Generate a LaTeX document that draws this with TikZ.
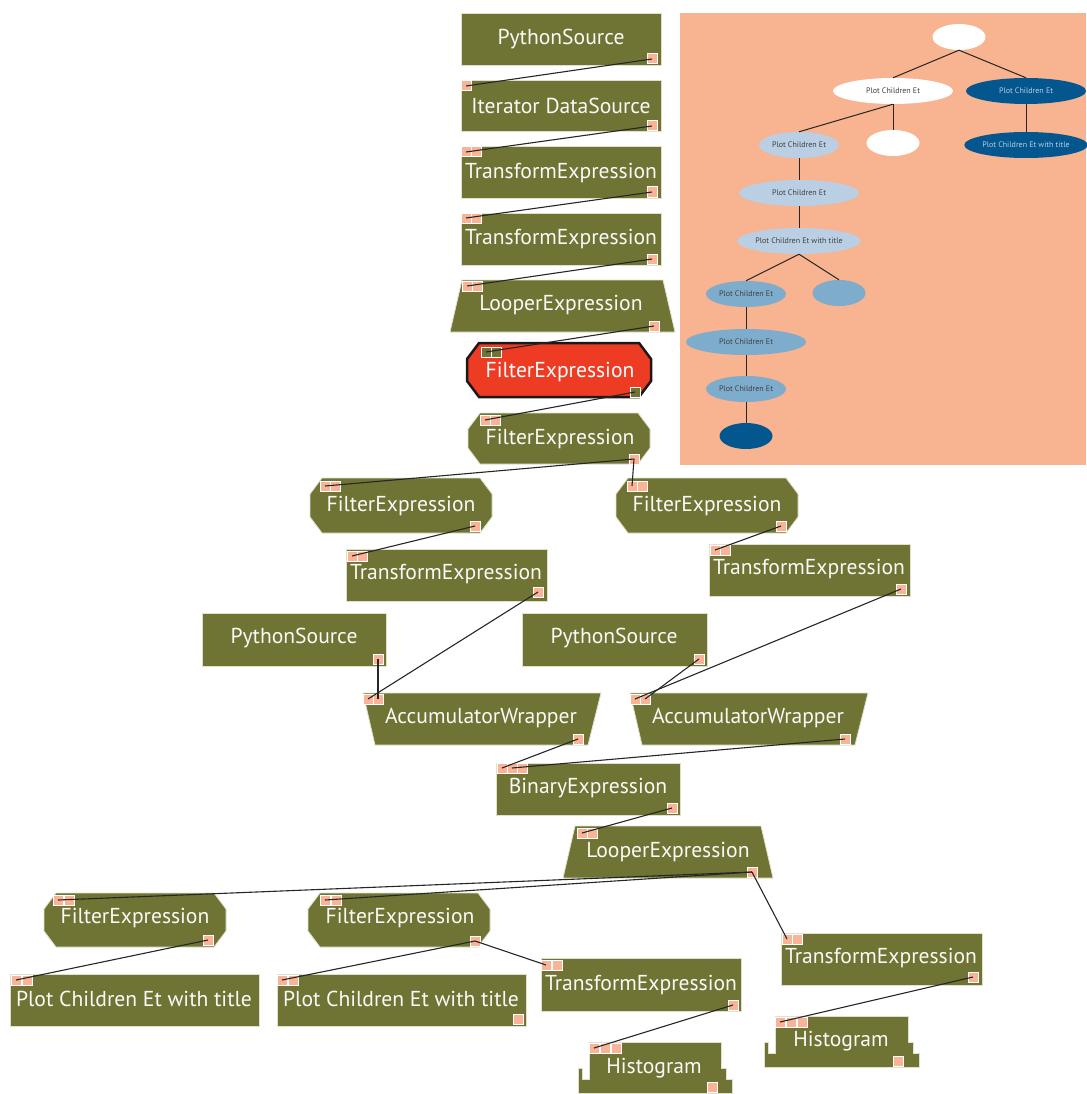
\documentclass[tikz,border=0pt]{standalone}
\usepackage{fontspec}
\setmainfont{PT Sans}
\usetikzlibrary{shapes.geometric}
\definecolor{blockgreen}{HTML}{6F7434}
\definecolor{portpink}{HTML}{F9B497}
\definecolor{sheet}{HTML}{F8B390}
\definecolor{alarm}{HTML}{EE3B24}
\definecolor{navy}{HTML}{03568E}
\definecolor{paleblue}{HTML}{BACFE4}
\definecolor{midblue}{HTML}{7EACCC}
\definecolor{edgeline}{HTML}{E2E0CC}
\def\rectbox(#1,#2,#3,#4){\draw[block] (#1,#2) rectangle (#3,#4);}
\def\trapbox(#1,#2,#3)(#4,#5,#6){\draw[block] (#1,#3) -- (#2,#3) -- (#5,#6) -- (#4,#6) -- cycle;}
\def\filterbox[#1](#2,#3,#4,#5){\draw[#1] ({#2+12},#3) -- ({#4-12},#3) -- (#4,{#3+16}) -- (#4,{#5-16}) -- ({#4-12},#5) -- ({#2+12},#5) -- (#2,{#5-16}) -- (#2,{#3+16}) -- cycle;}
\def\histbox(#1,#2,#3,#4){\draw[block] (#1,#2) -- (#3,#2) -- (#3,{#2+26.5}) -- ({#3+5},{#2+26.5}) -- ({#3+5},{#2+37}) -- ({#3+11},{#2+37}) -- ({#3+11},#4) -- ({#1-11},#4) -- ({#1-11},{#2+26.5}) -- ({#1-6.5},{#2+26.5}) -- ({#1-6.5},{#2+37}) -- (#1,{#2+37}) -- cycle;}

\begin{document}
\begin{tikzpicture}[x=1pt,y=-1pt,
	block/.style={fill=blockgreen,draw=edgeline,line width=0.8pt},
	blocktext/.style={text=white!96!blockgreen,font=\fontsize{21.6}{23}\selectfont,inner sep=0pt,yshift=-2pt},
	port/.style={fill=portpink,draw=white,line width=1pt,minimum size=10pt,inner sep=0pt},
	darkport/.style={port,fill=blockgreen},
	wire/.style={line width=1.1pt,black!85},
	leaf/.style={ellipse,inner sep=0pt,minimum height=26pt,text=black!75,font=\fontsize{8}{9}\selectfont},
	branch/.style={line width=1pt,black!85}]
			%%%%% START %%%%%
			\useasboundingbox (0,0) rectangle (1086,1094);
			
			% tree panel
			\fill[sheet] (680,13) rectangle (1086,465);
			\node[leaf,fill=white,minimum width=53pt] (t0) at (959,37) {};
			\node[leaf,fill=white,minimum width=120pt] (t1) at (893,91) {Plot Children Et};
			\node[leaf,fill=navy,text=paleblue,minimum width=120pt] (t2) at (1026,91) {Plot Children Et};
			\node[leaf,fill=paleblue,minimum width=80pt] (t3) at (799,145) {Plot Children Et};
			\node[leaf,fill=white,minimum width=53pt] (t4) at (893,143) {};
			\node[leaf,fill=navy,text=paleblue,minimum width=120pt] (t5) at (1026,145) {Plot Children Et with title};
			\node[leaf,fill=paleblue,minimum width=120pt] (t6) at (799,193) {Plot Children Et};
			\node[leaf,fill=paleblue,minimum width=120pt] (t7) at (799,241) {Plot Children Et with title};
			\node[leaf,fill=midblue,minimum width=80pt] (t8) at (746,294) {Plot Children Et};
			\node[leaf,fill=midblue,minimum width=53pt] (t9) at (839,293) {};
			\node[leaf,fill=midblue,minimum width=120pt] (t10) at (746,342) {Plot Children Et};
			\node[leaf,fill=midblue,minimum width=80pt] (t11) at (746,389) {Plot Children Et};
			\node[leaf,fill=navy,minimum width=53pt] (t12) at (746,436) {};
			\draw[branch] (t0.south) -- (t1.north);
			\draw[branch] (t0.south) -- (t2.north);
			\draw[branch] (t1.south) -- (t3.north);
			\draw[branch] (t1.south) -- (t4.north);
			\draw[branch] (t2.south) -- (t5.north);
			\draw[branch] (t3.south) -- (t6.north);
			\draw[branch] (t6.south) -- (t7.north);
			\draw[branch] (t7.south) -- (t8.north);
			\draw[branch] (t7.south) -- (t9.north);
			\draw[branch] (t8.south) -- (t10.north);
			\draw[branch] (t10.south) -- (t11.north);
			\draw[branch] (t11.south) -- (t12.north);
			
			% upper chain
			\rectbox(461,13,661,65)
			\node[blocktext] (ps1) at (561,37) {PythonSource};
			\node[port] (ps1o) at (652,59) {};
			
			\rectbox(461,80,661,131)
			\node[blocktext] (ids) at (561,104) {Iterator DataSource};
			\node[port] (idsi) at (466,86) {};
			\node[port] (idso) at (652,126) {};
			
			\rectbox(461,146,661,198)
			\node[blocktext] (te1) at (561,171) {TransformExpression};
			\node[port] (te1i) at (466,152) {};
			\node[port] (te1j) at (476,152) {};
			\node[port] (te1o) at (652,192) {};
			
			\rectbox(461,213,661,265)
			\node[blocktext] (te2) at (561,237) {TransformExpression};
			\node[port] (te2i) at (466,218) {};
			\node[port] (te2j) at (476,218) {};
			\node[port] (te2o) at (652,259) {};
			
			\trapbox(462,663,280)(450,675,332)
			\node[blocktext] (le1) at (561,303) {LooperExpression};
			\node[port] (le1i) at (467,286) {};
			\node[port] (le1j) at (477,286) {};
			\node[port] (le1o) at (654,326) {};
			
			\filterbox[fill=alarm,draw=black!90,line width=2.5pt](467,343,651,397)
			\node[blocktext,text=white] (fer) at (560,370) {FilterExpression};
			\node[darkport] (feri) at (486,352) {};
			\node[darkport] (ferj) at (496,352) {};
			\node[darkport] (fero) at (635,392) {};
			
			\filterbox[block](468,413,650,464)
			\node[blocktext] (fe2) at (560,437) {FilterExpression};
			\node[port] (fe2i) at (485,420) {};
			\node[port] (fe2j) at (495,420) {};
			\node[port] (fe2o) at (634,459) {};
			
			% two branches
			\filterbox[block](310,478,492,533)
			\node[blocktext] (fel) at (401,504) {FilterExpression};
			\node[port] (feli) at (325,486) {};
			\node[port] (felj) at (335,486) {};
			\node[port] (felo) at (475,526) {};
			
			\filterbox[block](616,478,798,533)
			\node[blocktext] (fer2) at (707,504) {FilterExpression};
			\node[port] (fer2i) at (632,486) {};
			\node[port] (fer2j) at (642,486) {};
			\node[port] (fer2o) at (781,526) {};
			
			\rectbox(346,549,547,601)
			\node[blocktext] (tel) at (446,572) {TransformExpression};
			\node[port] (teli) at (352,556) {};
			\node[port] (telj) at (362,556) {};
			\node[port] (telo) at (538,592) {};
			
			\rectbox(709,544,910,596)
			\node[blocktext] (ter) at (809,567) {TransformExpression};
			\node[port] (teri) at (715,550) {};
			\node[port] (terj) at (725,550) {};
			\node[port] (tero) at (901,589) {};
			
			\rectbox(202,613,386,666)
			\node[blocktext] (psl) at (294,636) {PythonSource};
			\node[port] (pslo) at (378,659) {};
			
			\rectbox(522,613,707,666)
			\node[blocktext] (psr) at (614,636) {PythonSource};
			\node[port] (psro) at (699,659) {};
			
			\trapbox(363,601,693)(375,588,745)
			\node[blocktext] (awl) at (481,716) {AccumulatorWrapper};
			\node[port] (awli) at (368,699) {};
			\node[port] (awlj) at (378,699) {};
			\node[port] (awlo) at (578,739) {};
			
			\trapbox(630,868,693)(642,855,745)
			\node[blocktext] (awr) at (748,716) {AccumulatorWrapper};
			\node[port] (awri) at (635,699) {};
			\node[port] (awrj) at (645,699) {};
			\node[port] (awro) at (845,739) {};
			
			% merge
			\rectbox(496,763,680,815)
			\node[blocktext] (be) at (588,786) {BinaryExpression};
			\node[port] (bei) at (502,768) {};
			\node[port] (bej) at (512,768) {};
			\node[port] (bek) at (522,768) {};
			\node[port] (beo) at (672,808) {};
			
			\trapbox(575,761,826)(563,773,878)
			\node[blocktext] (le2) at (668,850) {LooperExpression};
			\node[port] (le2i) at (582,833) {};
			\node[port] (le2j) at (592,833) {};
			\node[port] (le2o) at (752,872) {};
			
			% outputs
			\filterbox[block](44,893,226,947)
			\node[blocktext] (febl) at (135,916) {FilterExpression};
			\node[port] (febli) at (58,900) {};
			\node[port] (feblj) at (69,900) {};
			\node[port] (feblo) at (208,940) {};
			
			\filterbox[block](308,893,490,947)
			\node[blocktext] (febm) at (400,916) {FilterExpression};
			\node[port] (febmi) at (325,900) {};
			\node[port] (febmj) at (336,900) {};
			\node[port] (febmo) at (475,941) {};
			
			\rectbox(10,974,259,1026)
			\node[blocktext] (pbl) at (134,997) {Plot Children Et with title};
			\node[port] (pbli) at (16,980) {};
			\node[port] (pblj) at (27,980) {};
			
			\rectbox(277,974,526,1026)
			\node[blocktext] (pbm) at (401,997) {Plot Children Et with title};
			\node[port] (pbmi) at (282,980) {};
			\node[port] (pbmj) at (293,980) {};
			\node[port] (pbmo) at (518,1019) {};
			
			\rectbox(541,958,741,1011)
			\node[blocktext] (tebm) at (641,983) {TransformExpression};
			\node[port] (tebmi) at (546,965) {};
			\node[port] (tebmj) at (557,965) {};
			\node[port] (tebmo) at (733,1005) {};
			
			\rectbox(781,933,982,985)
			\node[blocktext] (tebr) at (881,956) {TransformExpression};
			\node[port] (tebri) at (787,939) {};
			\node[port] (tebrj) at (797,939) {};
			\node[port] (tebro) at (973,977) {};
			
			\histbox(589,1042,721,1093)
			\node[blocktext] (hl) at (654,1066) {Histogram};
			\node[port] (hli) at (594,1048) {};
			\node[port] (hlj) at (605,1048) {};
			\node[port] (hlk) at (616,1048) {};
			\node[port] (hlo) at (712,1087) {};
			
			\histbox(775,1016,908,1067)
			\node[blocktext] (hr) at (841,1039) {Histogram};
			\node[port] (hri) at (780,1022) {};
			\node[port] (hrj) at (791,1022) {};
			\node[port] (hrk) at (802,1022) {};
			\node[port] (hro) at (898,1061) {};
			
			% connections
			\draw[wire] (ps1o.center) -- (idsi.center);
			\draw[wire] (idso.center) -- (te1i.center);
			\draw[wire] (te1o.center) -- (te2i.center);
			\draw[wire] (te2o.center) -- (le1i.center);
			\draw[wire] (le1o.center) -- (feri.center);
			\draw[wire] (fero.center) -- (fe2i.center);
			\draw[wire] (fe2o.center) -- (feli.center);
			\draw[wire] (fe2o.center) -- (fer2i.center);
			\draw[wire] (felo.center) -- (teli.center);
			\draw[wire] (fer2o.center) -- (teri.center);
			\draw[wire] (telo.center) -- (awli.center);
			\draw[wire] (pslo.center) -- (awlj.center);
			\draw[wire] (tero.center) -- (awri.center);
			\draw[wire] (psro.center) -- (awrj.center);
			\draw[wire] (awlo.center) -- (bei.center);
			\draw[wire] (awro.center) -- (bej.center);
			\draw[wire] (beo.center) -- (le2i.center);
			\draw[wire] (le2o.center) -- (febli.center);
			\draw[wire] (le2o.center) -- (febmi.center);
			\draw[wire] (le2o.center) -- (tebri.center);
			\draw[wire] (feblo.center) -- (pbli.center);
			\draw[wire] (febmo.center) -- (pbmi.center);
			\draw[wire] (febmo.center) -- (tebmi.center);
			\draw[wire] (tebmo.center) -- (hli.center);
			\draw[wire] (tebro.center) -- (hri.center);
			
			%%%%% END %%%%%
\end{tikzpicture}
\end{document}
